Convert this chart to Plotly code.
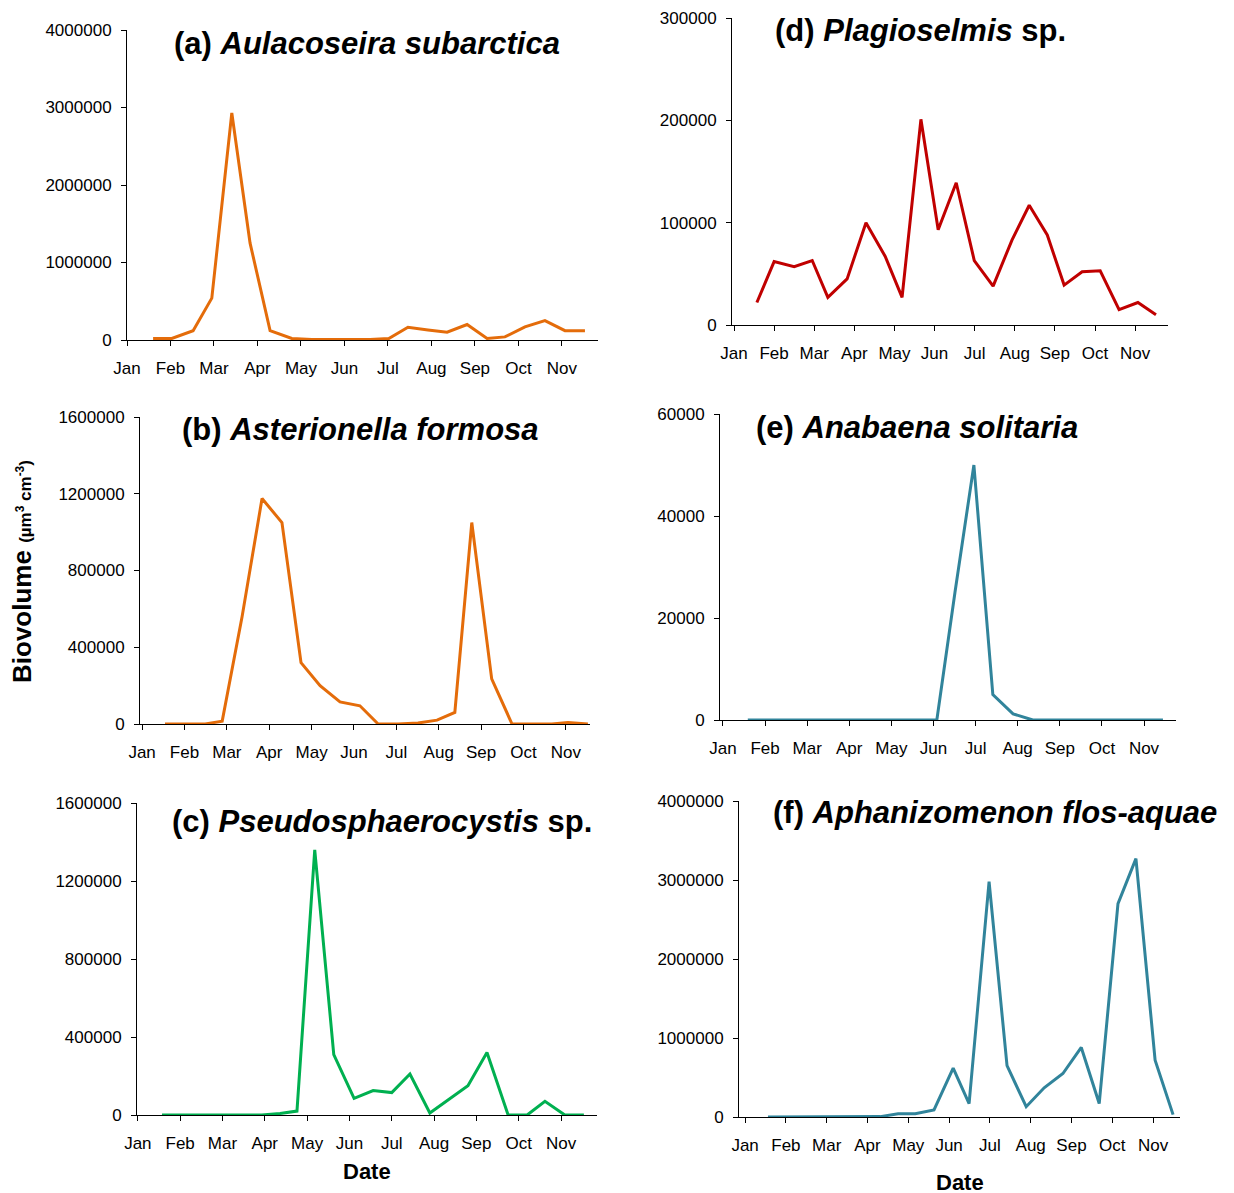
import plotly.graph_objects as go

W, H = 1234, 1193
OFF = 8  # page body margin in the browser
months = ["Jan", "Feb", "Mar", "Apr", "May", "Jun", "Jul", "Aug", "Sep", "Oct", "Nov"]

# x values are in months after 1 Jan
a_x = [0.60, 1.03, 1.52, 1.95, 2.41, 2.83, 3.29, 3.79, 4.25, 4.69, 5.13, 5.59, 6.02, 6.46, 6.92, 7.36, 7.82, 8.28, 8.69, 9.15, 9.61, 10.07, 10.53]
a_y = [20000, 20000, 120000, 540000, 2930000, 1250000, 120000, 20000, 5000, 5000, 5000, 5000, 20000, 165000, 130000, 100000, 200000, 20000, 40000, 170000, 250000, 120000, 120000]

b_x = [0.54, 1.01, 1.49, 1.89, 2.36, 2.83, 3.30, 3.75, 4.20, 4.67, 5.14, 5.57, 6.04, 6.51, 6.96, 7.38, 7.78, 8.25, 8.73, 9.20, 9.67, 10.05, 10.52]
b_y = [0, 0, 0, 15000, 560000, 1175000, 1050000, 320000, 200000, 115000, 95000, 0, 0, 5000, 20000, 60000, 1050000, 235000, 0, 0, 0, 8000, 0]

c_x = [0.57, 1.04, 1.51, 1.99, 2.46, 2.93, 3.36, 3.76, 4.18, 4.63, 5.11, 5.56, 6.00, 6.43, 6.90, 7.35, 7.80, 8.25, 8.75, 9.20, 9.62, 10.09, 10.54]
c_y = [0, 0, 0, 0, 0, 0, 8000, 20000, 1360000, 310000, 85000, 125000, 115000, 210000, 10000, 80000, 150000, 320000, 0, 0, 70000, 0, 0]

d_x = [0.57, 1.00, 1.50, 1.95, 2.34, 2.82, 3.29, 3.77, 4.19, 4.66, 5.09, 5.54, 5.99, 6.46, 6.93, 7.36, 7.81, 8.23, 8.68, 9.13, 9.60, 10.07, 10.52]
d_y = [22000, 62000, 57000, 63000, 27000, 45000, 100000, 67000, 27000, 201000, 93000, 139000, 63000, 38000, 83000, 117000, 88000, 39000, 52000, 53000, 15000, 22000, 10000]

e_x = [0.59, 1.07, 1.54, 2.02, 2.49, 2.97, 3.44, 3.92, 4.39, 5.08, 5.51, 5.96, 6.41, 6.89, 7.36, 7.84, 8.31, 8.79, 9.26, 9.74, 10.45]
e_y = [0, 0, 0, 0, 0, 0, 0, 0, 0, 0, 25000, 50000, 5000, 1200, 0, 0, 0, 0, 0, 0, 0]

f_x = [0.56, 1.05, 1.54, 2.03, 2.52, 3.01, 3.31, 3.75, 4.17, 4.63, 5.10, 5.49, 5.98, 6.42, 6.89, 7.33, 7.79, 8.24, 8.68, 9.14, 9.58, 10.05, 10.49]
f_y = [0, 0, 0, 0, 0, 0, 5000, 40000, 40000, 90000, 620000, 170000, 2980000, 650000, 130000, 370000, 550000, 880000, 170000, 2700000, 3270000, 720000, 30000]

ORANGE, RED, GREEN, TEAL = "#E46C0A", "#C00000", "#00B050", "#31849B"

# (x data, y data, colour, y max, y step, pixel box [x0, x1, ytop, ybottom], x range, title, title pos)
panels = [
    (a_x, a_y, ORANGE, 4000000, 1000000, [127, 598, 30, 340], [0, 10.83],
     "<b>(a) <i>Aulacoseira subarctica</i></b>", (367, 44)),
    (b_x, b_y, ORANGE, 1600000, 400000, [140, 590, 417, 724], [-0.05, 10.57],
     "<b>(b) <i>Asterionella formosa</i></b>", (360, 430)),
    (c_x, c_y, GREEN, 1600000, 400000, [137, 597, 803, 1115], [-0.02, 10.85],
     "<b>(c) <i>Pseudosphaerocystis</i> sp.</b>", (382, 821)),
    (d_x, d_y, RED, 300000, 100000, [732, 1168, 18, 325], [-0.05, 10.82],
     "<b>(d) <i>Plagioselmis</i> sp.</b>", (920, 31)),
    (e_x, e_y, TEAL, 60000, 20000, [720, 1176, 414, 720], [-0.07, 10.76],
     "<b>(e) <i>Anabaena solitaria</i></b>", (917, 427)),
    (f_x, f_y, TEAL, 4000000, 1000000, [739, 1180, 801, 1117], [-0.15, 10.66],
     "<b>(f) <i>Aphanizomenon flos-aquae</i></b>", (995, 813)),
]


def px(x):
    return (x - OFF) / W


def py(y):
    return 1 - (y - OFF) / H


fig = go.Figure()
font = "Liberation Sans, Arial, sans-serif"
annotations = []

for i, (xs, ys, col, ymax, ystep, box, xr, title, tpos) in enumerate(panels, start=1):
    sfx = "" if i == 1 else str(i)
    fig.add_trace(go.Scatter(x=xs, y=ys, mode="lines", line=dict(color=col, width=3),
                             xaxis="x" + sfx, yaxis="y" + sfx, showlegend=False))
    x0, x1, yt, yb = box
    common = dict(showline=True, linecolor="black", linewidth=1, ticks="outside",
                  tickcolor="black", ticklen=5, showgrid=False, zeroline=False, automargin=False,
                  tickfont=dict(family=font, size=17, color="black"))
    fig.update_layout({
        "xaxis" + sfx: dict(domain=[px(x0), px(x1)], anchor="y" + sfx, range=xr,
                            tickvals=list(range(len(months))), ticktext=months,
                            ticklabelstandoff=8, **common),
        "yaxis" + sfx: dict(domain=[py(yb), py(yt)], anchor="x" + sfx,
                            range=[0, ymax], dtick=ystep, tickformat="d",
                            ticklabelstandoff=6, **common),
    })
    annotations.append(dict(text=title, x=px(tpos[0]), y=py(tpos[1]), xanchor="center", yanchor="middle",
                            showarrow=False, font=dict(family=font, size=31, color="black")))

annotations += [
    dict(text="<b>Biovolume</b> <b><span style='font-size:17px'>(µm<sup>3</sup> cm<sup>-3</sup>)</span></b>",
         x=px(22), y=py(572), textangle=-90, showarrow=False, xanchor="center", yanchor="middle",
         font=dict(family=font, size=26, color="black")),
    dict(text="<b>Date</b>", x=px(367), y=py(1171), showarrow=False, xanchor="center", yanchor="middle",
         font=dict(family=font, size=22, color="black")),
    dict(text="<b>Date</b>", x=px(960), y=py(1182), showarrow=False, xanchor="center", yanchor="middle",
         font=dict(family=font, size=22, color="black")),
]
for a in annotations:
    a.update(xref="paper", yref="paper")

fig.update_layout(width=W, height=H, margin=dict(l=0, r=0, t=0, b=0, autoexpand=False),
                  paper_bgcolor="white", plot_bgcolor="white", annotations=annotations,
                  font=dict(family=font, color="black"))

fig.write_html("out.html")
